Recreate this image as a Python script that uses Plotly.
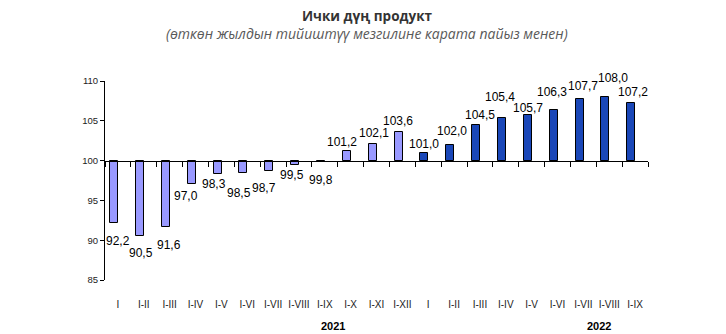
import plotly.graph_objects as go

months_2021 = ["I", "I-II", "I-III", "I-IV", "I-V", "I-VI", "I-VII", "I-VIII", "I-IX", "I-X", "I-XI", "I-XII"]
values_2021 = [92.2, 90.5, 91.6, 97.0, 98.3, 98.5, 98.7, 99.5, 99.8, 101.2, 102.1, 103.6]
months_2022 = ["I", "I-II", "I-III", "I-IV", "I-V", "I-VI", "I-VII", "I-VIII", "I-IX"]
values_2022 = [101.0, 102.0, 104.5, 105.4, 105.7, 106.3, 107.7, 108.0, 107.2]
years = ["2021", "2022"]
base_value = 100
y_ticks = [85, 90, 95, 100, 105, 110]

title = "Ички дүң продукт"
subtitle = "(өткөн жылдын тийиштүү мезгилине карата пайыз менен)"

# label placement (pixels, relative to bar end): layout only
label_dx = [4, 1, 3.5, -6, -3.5, -4, -5, -3, 0, -5.3, 1, -0.7,
            0, 1.7, 3.7, -2.5, 0, -1.5, 3.3, 7.3, 1.2]
label_dy = [18, 16.7, 17.7, 11.5, 9.5, 20, 17, 10, 17.5, -9, -10.7, -11,
            -9, -13.3, -9.3, -20.7, -7.7, -18, -13.3, -19.3, -11.3]

cats_2021 = [f"{m} {years[0]}" for m in months_2021]
cats_2022 = [f"{m} {years[1]}" for m in months_2022]
all_cats = cats_2021 + cats_2022
all_labels = months_2021 + months_2022
all_values = values_2021 + values_2022


def fmt(v):
    return f"{v:.1f}".replace(".", ",")


FONT = "Liberation Sans, Arial, sans-serif"
BAR_W = 0.31
BAR_OFF = -0.30
CAT_PX = 543 / 21

fig = go.Figure()
for cats, vals, color in [(cats_2021, values_2021, "#9999FF"), (cats_2022, values_2022, "#1A47B8")]:
    fig.add_trace(go.Bar(
        x=cats,
        y=[v - base_value for v in vals],
        base=base_value,
        width=BAR_W,
        offset=BAR_OFF,
        marker=dict(color=color, line=dict(color="black", width=1)),
        showlegend=False,
        hoverinfo="skip",
    ))

bar_center_px = (BAR_OFF + BAR_W / 2) * CAT_PX
for cat, v, dx, dy in zip(all_cats, all_values, label_dx, label_dy):
    fig.add_annotation(text=fmt(v), x=cat, y=v, xref="x", yref="y",
                       xshift=bar_center_px + dx, yshift=-dy,
                       showarrow=False, xanchor="center", yanchor="middle",
                       font=dict(family=FONT, size=12, color="black"))

fig.update_layout(
    width=726, height=334,
    margin=dict(l=105, r=78, t=81, b=54),
    paper_bgcolor="white", plot_bgcolor="white",
    title=dict(text=f"<b>{title}</b>", x=367 / 726, xanchor="center", xref="container",
               y=1 - 16 / 334, yanchor="middle", yref="container",
               font=dict(family="Open Sans, sans-serif", size=13.5, color="#333333")),
    xaxis=dict(
        type="category",
        categoryorder="array", categoryarray=all_cats,
        tickmode="array", tickvals=all_cats, ticktext=all_labels,
        tickson="boundaries",
        ticks="outside", ticklen=5, tickcolor="black",
        tickangle=0,
        showline=True, linecolor="black", linewidth=1,
        anchor="free", position=(base_value - 85) / (110 - 85),
        ticklabelstandoff=134,
        tickfont=dict(family=FONT, size=10, color="#222222"),
        showgrid=False, zeroline=False,
        range=[-0.5, len(all_cats) - 0.5],
    ),
    yaxis=dict(
        range=[85, 110], tickvals=y_ticks,
        ticks="outside", ticklen=4, tickcolor="black",
        showline=True, linecolor="black", linewidth=1,
        showgrid=False, zeroline=False,
        tickfont=dict(family=FONT, size=9.5, color="#222222"),
    ),
    bargap=0,
)

fig.add_annotation(text=f"<i>{subtitle}</i>", xref="paper", yref="paper",
                   x=(367 - 105) / 543, y=(280 - 34) / 199, showarrow=False,
                   xanchor="center", yanchor="middle",
                   font=dict(family="Open Sans, sans-serif", size=14, color="#595959"))

for yr, xi in zip(years, [8.3, 18.6]):
    fig.add_annotation(text=f"<b>{yr}</b>", xref="x", yref="paper", x=xi,
                       y=(280 - 326) / 199, showarrow=False, xanchor="center", yanchor="middle",
                       font=dict(family=FONT, size=11, color="black"))

fig.write_html("out.html")
